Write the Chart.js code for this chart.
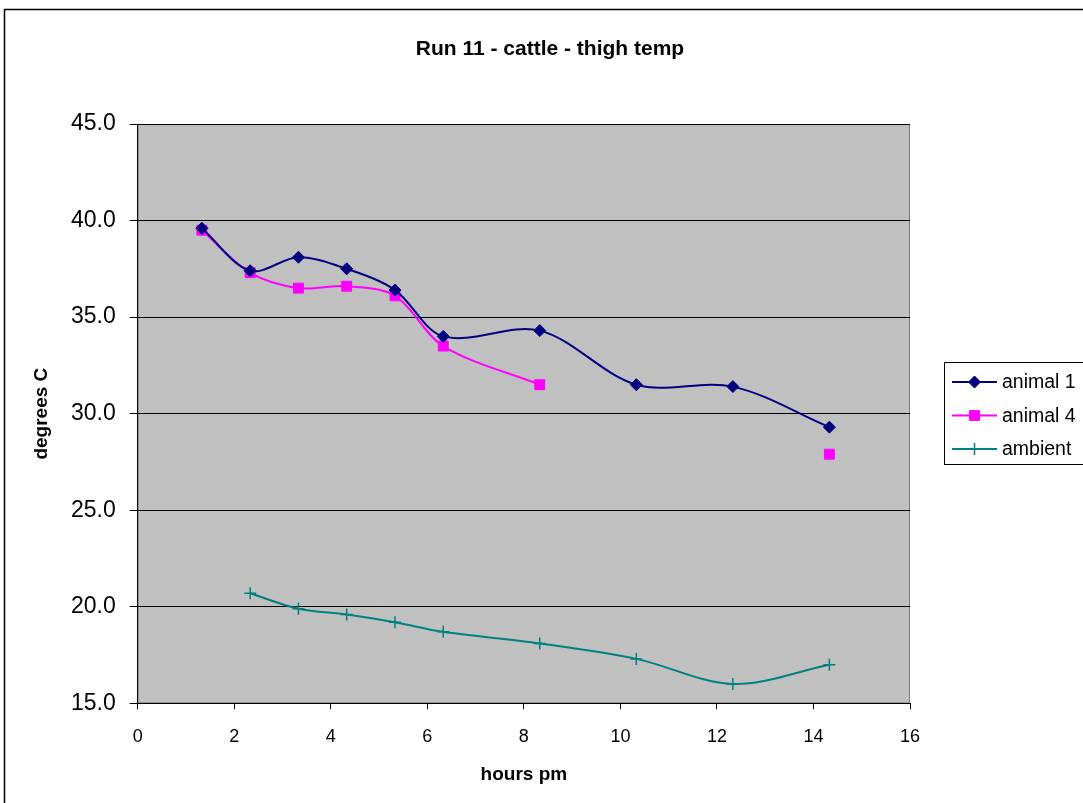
<!DOCTYPE html>
<html>
<head>
<meta charset="utf-8">
<title>Run 11 - cattle - thigh temp</title>
<script src="https://cdn.jsdelivr.net/npm/chart.js@4/dist/chart.umd.min.js"></script>
<style>
  html, body { margin: 0; padding: 0; background: #fff; }
  #wrap { width: 1083px; height: 803px; position: relative; }
</style>
</head>
<body>
<div id="wrap"><canvas id="chart" width="1083" height="803"></canvas></div>
<script>
// data (x = hours pm)
const hours   = [1.33, 2.33, 3.33, 4.33, 5.33, 6.33, 8.33, 10.33, 12.33, 14.33];
const animal1 = [39.6, 37.4, 38.1, 37.5, 36.4, 34.0, 34.3, 31.5, 31.4, 29.3];
const animal4 = [39.5, 37.3, 36.5, 36.6, 36.1, 33.5, 31.5, null, null, 27.9];
const ambient = [null, 20.7, 19.9, 19.6, 19.2, 18.7, 18.1, 17.3, 16.0, 17.0];

const seriesNames = ['animal 1', 'animal 4', 'ambient'];
const chartTitle = 'Run 11 - cattle - thigh temp';
const xTitle = 'hours pm';
const yTitle = 'degrees C';
const xMin = 0, xMax = 16, xStep = 2;
const yMin = 15, yMax = 45, yStep = 5;

const FONT = 'Arial, "Liberation Sans", sans-serif';
const toPoints = vals => hours.map((h, i) => ({ x: h, y: vals[i] }));

// grey plot area + outer frame + title
const decor = {
  id: 'decor',
  beforeDraw(chart) {
    const { ctx, chartArea: a } = chart;
    ctx.save();
    ctx.fillStyle = '#fff';
    ctx.fillRect(0, 0, chart.width, chart.height);
    ctx.fillStyle = '#c0c0c0';
    ctx.fillRect(a.left, a.top, a.right - a.left, a.bottom - a.top);
    ctx.strokeStyle = '#808080';
    ctx.lineWidth = 1;
    ctx.strokeRect(a.left + 0.5, a.top + 0.5, a.right - a.left - 1, a.bottom - a.top - 1);
    ctx.restore();
  },
  afterDraw(chart) {
    const { ctx } = chart;
    ctx.save();
    ctx.strokeStyle = '#000';
    ctx.lineWidth = 1.5;
    ctx.strokeRect(4.5, 9.5, 1300, 1000);
    ctx.fillStyle = '#000';
    ctx.font = 'bold 21px ' + FONT;
    ctx.textAlign = 'center';
    ctx.textBaseline = 'middle';
    ctx.fillText(chartTitle, 550, 49);
    ctx.restore();
  }
};

// boxed legend on the right, like the original
const boxLegend = {
  id: 'boxLegend',
  afterDraw(chart) {
    const { ctx } = chart;
    ctx.save();
    ctx.strokeStyle = '#000';
    ctx.lineWidth = 1;
    ctx.strokeRect(944.5, 362.5, 200, 102);
    chart.data.datasets.forEach((ds, i) => {
      const y = 382 + 33.5 * i;
      ctx.strokeStyle = ds.borderColor;
      ctx.lineWidth = ds.borderWidth;
      ctx.beginPath();
      ctx.moveTo(952, y);
      ctx.lineTo(997, y);
      ctx.stroke();
      ctx.fillStyle = ds.pointBackgroundColor;
      ctx.strokeStyle = ds.pointBorderColor;
      ctx.lineWidth = ds.pointBorderWidth;
      Chart.helpers.drawPoint(ctx, {
        pointStyle: ds.pointStyle, radius: ds.pointRadius, rotation: 0, borderWidth: ds.pointBorderWidth
      }, 974.5, y);
      ctx.fillStyle = '#000';
      ctx.font = '19.5px ' + FONT;
      ctx.textAlign = 'left';
      ctx.textBaseline = 'middle';
      ctx.fillText(ds.label, 1002, y + 1);
    });
    ctx.restore();
  }
};

new Chart(document.getElementById('chart'), {
  type: 'line',
  data: {
    datasets: [
      {
        label: seriesNames[0], data: toPoints(animal1),
        borderColor: '#000080', borderWidth: 2,
        pointStyle: 'rectRot', pointRadius: 6, pointBackgroundColor: '#000080',
        pointBorderColor: '#000080', pointBorderWidth: 1,
        tension: 0.33, spanGaps: false
      },
      {
        label: seriesNames[1], data: toPoints(animal4),
        borderColor: '#ff00ff', borderWidth: 2,
        pointStyle: 'rect', pointRadius: 7, pointBackgroundColor: '#ff00ff',
        pointBorderColor: '#ff00ff', pointBorderWidth: 1,
        tension: 0.33, spanGaps: false
      },
      {
        label: seriesNames[2], data: toPoints(ambient),
        borderColor: '#008080', borderWidth: 2,
        pointStyle: 'cross', pointRadius: 6, pointBackgroundColor: '#008080',
        pointBorderColor: '#008080', pointBorderWidth: 1.5,
        tension: 0.33, spanGaps: false
      }
    ]
  },
  options: {
    responsive: false,
    animation: false,
    layout: { padding: { top: 124, left: 8, right: 173, bottom: 0 } },
    plugins: {
      legend: { display: false },
      title: { display: false },
      tooltip: { enabled: false }
    },
    scales: {
      x: {
        type: 'linear', min: xMin, max: xMax,
        afterFit: s => { s.height = 99.7; },
        ticks: { stepSize: xStep, color: '#000', padding: 17, font: { family: FONT, size: 18 } },
        grid: { drawOnChartArea: false, drawTicks: true, tickLength: 6, color: '#000', lineWidth: 1 },
        border: { color: '#000', width: 1 },
        title: { display: true, text: xTitle, color: '#000', padding: { top: 0, bottom: 17 },
                 font: { family: FONT, size: 19, weight: 'bold' } }
      },
      y: {
        type: 'linear', min: yMin, max: yMax,
        afterFit: s => { s.width = 129.7; },
        ticks: { stepSize: yStep, color: '#000', padding: 14, font: { family: FONT, size: 23 },
                 callback: v => v.toFixed(1) },
        grid: { drawTicks: true, tickLength: 8, color: '#000', lineWidth: 1 },
        border: { color: '#000', width: 1 },
        title: { display: true, text: yTitle, color: '#000', padding: { top: 22.6, bottom: 0 },
                 font: { family: FONT, size: 19, weight: 'bold' } }
      }
    }
  },
  plugins: [decor, boxLegend]
});
</script>
</body>
</html>
